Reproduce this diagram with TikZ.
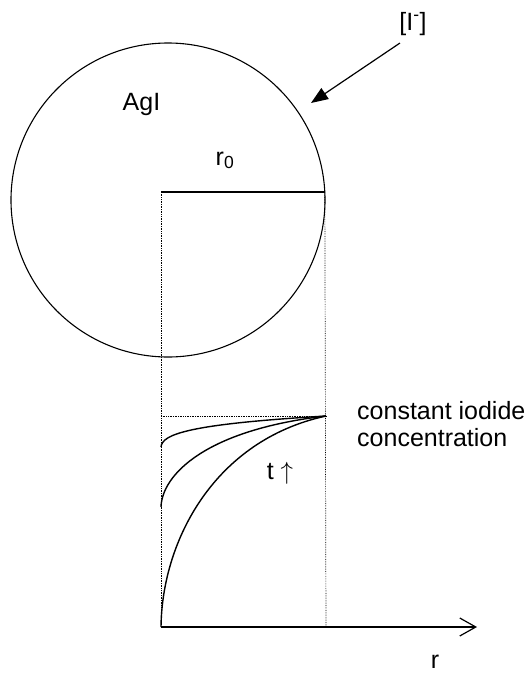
\documentclass[tikz,border=0pt]{standalone}
\usepackage{fontspec}
\setmainfont{Liberation Sans}
\usetikzlibrary{arrows.meta,positioning}
\tikzset{
  eti/.style={font=\fontsize{25}{27}\selectfont, inner sep=0pt, anchor=base},
  curva/.style={line width=1.4pt},
  punt/.style={densely dotted, line width=0.7pt},
  fl/.style={-{Triangle[length=17pt,width=13pt]}, line width=1.2pt},
  eje/.style={-{Straight Barb[length=16pt,width=18pt]}, line width=1.2pt},
}

\begin{document}
\begin{tikzpicture}[x=1pt,y=-1pt]
  \useasboundingbox (0,0) rectangle (528,673);
  % grain
  \node[circle, draw, line width=1.1pt, minimum size=314pt, inner sep=0pt] (agi) at (168,200) {};
  \node[eti] (nagi) at (141.5,110) {AgI};
  \node[eti] (rcero) at (225,165) {r\textsubscript{0}};
  \node[eti] (iodo) at (413,30) {[I\textsuperscript{-}]};
  \coordinate (ini) at (400,43);
  \coordinate (hit) at (311,103);
  \draw[fl] (ini) -- (hit);
  % radius
  \coordinate (cen) at (161,192);
  \coordinate (borde) at (324.8,192);
  \draw[line width=1.3pt] (cen) -- (borde);
  % profile
  \coordinate (org) at (161,627);
  \coordinate (fin) at (326,627);
  \coordinate (sup) at (326,416);
  \coordinate (supi) at (161,416);
  \draw[punt] (cen) -- (org);
  \draw[punt] (borde) -- (fin);
  \draw[punt] (supi) -- (sup);
  \draw[eje] (org) -- (477,627);
  \draw[curva] (161,447) .. controls (162,434) and (190,424) .. (sup);
  \draw[curva] (161,507) .. controls (162,475) and (205,430) .. (sup);
  \draw[curva] (org) .. controls (162,540) and (215,440) .. (sup);
  \node[eti] (tiempo) at (280,479) {t $\uparrow$};
  \node[eti, anchor=base west, align=left] (cte) at (357,446) {constant iodide\\concentration};
  \node[eti] (erre) at (435,668) {r};
\end{tikzpicture}
\end{document}
